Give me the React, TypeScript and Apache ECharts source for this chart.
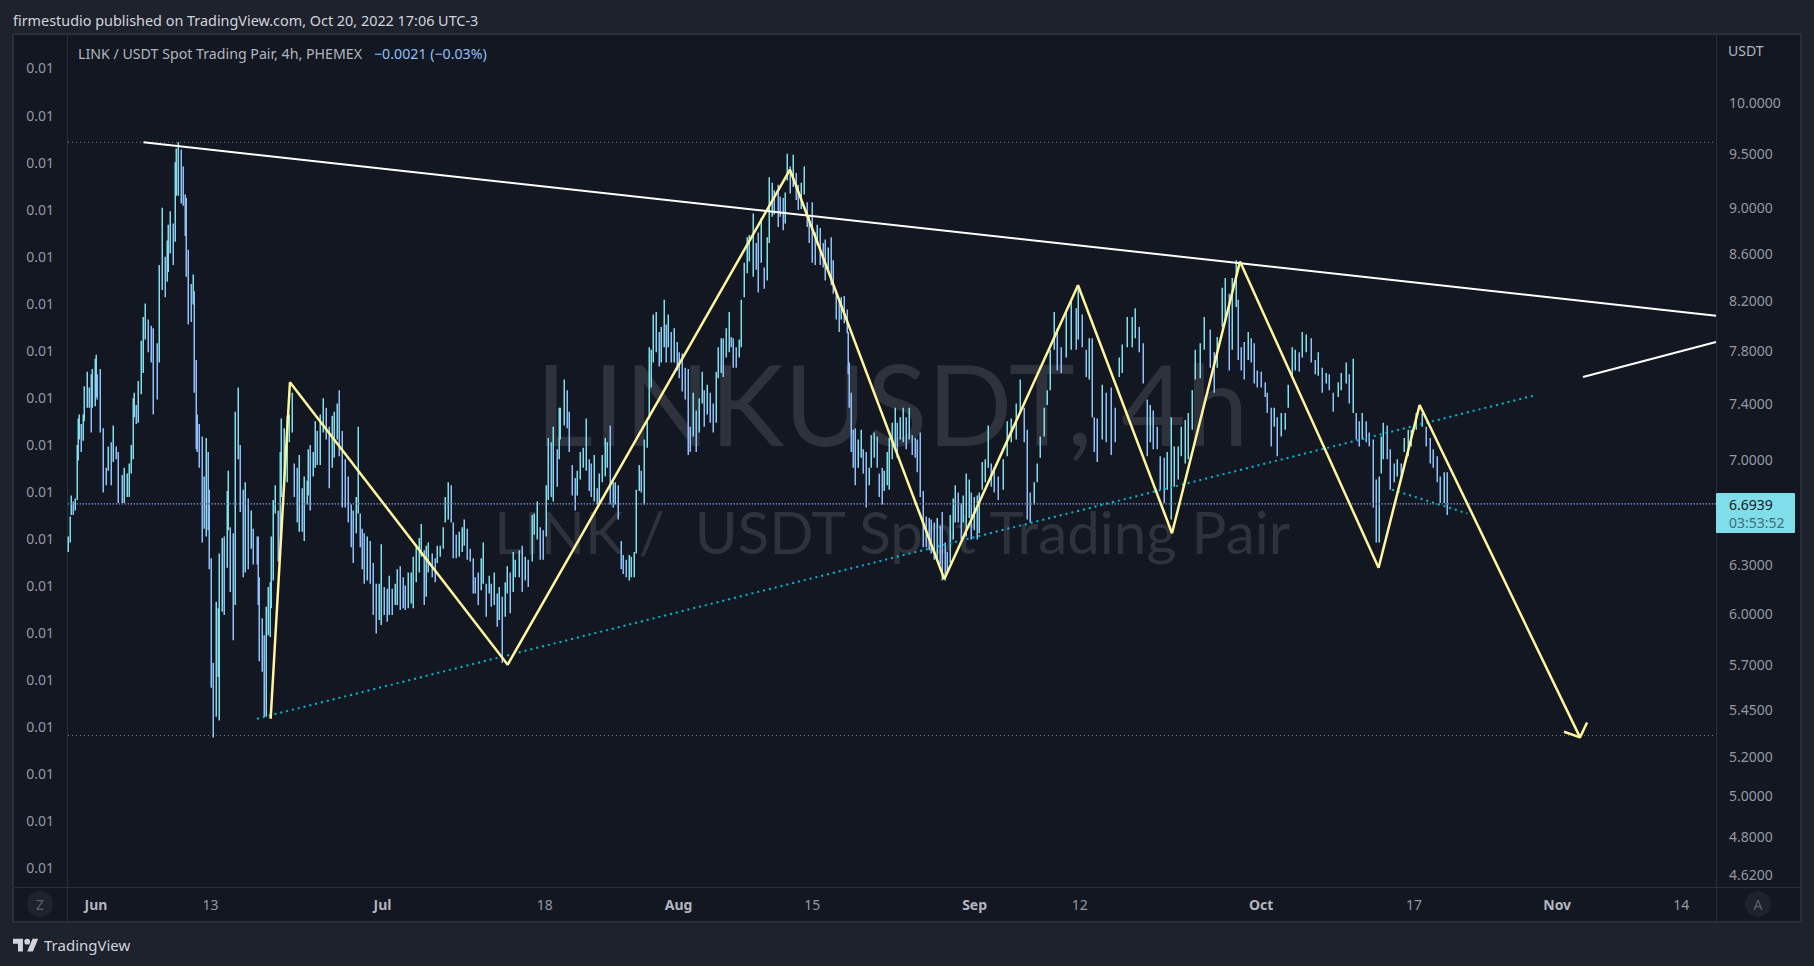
import React, { useEffect, useRef } from "react";
import * as echarts from "echarts";

// Time is counted in days from 1 June 2022. Prices are USDT.
const barDay = [
  -2.9,-2.7,-2.6,-2.4,-2.2,-2.0,-1.9,-1.8,-1.6,-1.4,
  -1.3,-0.9,-0.7,-0.5,-0.4,-0.1,0,0.1,0.4,0.7,
  1.0,1.3,1.6,1.8,2.1,2.3,2.7,2.9,3.2,3.5,
  3.7,3.9,4.0,4.2,4.4,4.7,4.9,5.1,5.4,5.8,
  6.0,6.4,6.6,6.9,7.2,7.4,7.5,7.7,8.1,8.3,
  8.4,8.6,8.9,9.1,9.3,9.4,9.6,9.9,10.2,10.3,
  10.5,10.6,10.8,11.1,11.3,11.5,11.7,11.8,12.0,12.3,
  12.6,12.8,12.9,13.2,13.4,13.7,13.8,14.0,14.3,14.6,
  14.9,15.1,15.4,15.6,15.9,16.2,16.4,16.9,17.0,17.1,
  17.4,17.6,17.8,18.0,18.2,18.3,18.5,18.7,19.1,19.3,
  19.4,19.7,20.0,20.2,20.5,20.7,21.0,21.3,21.6,21.8,
  22.1,22.2,22.4,22.7,22.9,23.1,23.5,23.8,24.1,24.4,
  24.7,24.9,25.2,25.4,25.8,26.1,26.4,26.7,26.9,27.2,
  27.4,27.6,27.9,28.1,28.4,28.7,29.0,29.3,29.6,29.8,
  30.2,30.5,30.7,31.0,31.3,31.5,31.8,32.1,32.4,32.7,
  33.0,33.2,33.5,33.8,34.0,34.3,34.6,34.8,35.2,35.5,
  35.7,36.0,36.3,36.5,36.9,37.2,37.4,37.7,38.0,38.3,
  38.5,38.8,39.2,39.5,39.7,40.0,40.3,40.5,40.8,41.2,
  41.4,41.7,42.0,42.2,42.5,42.8,43.0,43.4,43.7,43.9,
  44.3,44.6,44.9,45.2,45.7,45.9,46.2,46.5,46.8,47.1,
  47.3,47.6,47.9,48.3,48.5,48.6,49.0,49.3,49.5,49.8,
  50.2,50.4,50.7,51.0,51.3,51.6,51.8,52.1,52.5,52.7,
  53.0,53.3,53.5,53.8,54.1,54.3,54.7,55.0,55.2,55.5,
  55.8,56.0,56.3,56.5,56.9,57.1,57.4,57.7,57.9,58.1,
  58.3,58.6,59.0,59.2,59.5,59.7,59.9,60.2,60.5,60.8,
  61.0,61.4,61.7,62.0,62.2,62.5,62.8,63.1,63.5,63.7,
  64.0,64.3,64.6,64.9,65.1,65.4,65.7,66.0,66.3,66.5,
  66.7,67.0,67.3,67.5,67.9,68.2,68.4,68.8,69.1,69.3,
  69.6,69.9,70.3,70.5,70.8,71.0,71.4,71.6,71.9,72.1,
  72.4,72.7,73.0,73.3,73.5,73.8,74.1,74.5,74.7,75.0,
  75.3,75.5,75.8,76.1,76.3,76.6,77.0,77.2,77.5,77.8,
  78.0,78.3,78.6,78.7,78.8,79.1,79.3,79.5,79.8,80.1,
  80.3,80.6,80.9,81.2,81.5,81.8,82.0,82.3,82.5,82.8,
  83.0,83.4,83.7,83.9,84.2,84.5,84.8,85.1,85.4,85.8,
  86.0,86.3,86.6,86.9,87.2,87.4,87.7,88.1,88.4,88.6,
  88.9,89.1,89.4,89.7,89.9,90.3,90.6,90.8,91.1,91.4,
  91.6,91.9,92.3,92.5,92.8,93.1,93.4,93.7,94.0,94.5,
  95.0,95.4,95.8,96.3,96.8,97.2,97.5,97.8,98.2,98.5,
  98.8,99.3,99.6,99.9,100.3,100.6,101.0,101.6,102.1,102.6,
  102.8,103.2,103.7,104.0,104.3,104.5,104.8,105.3,105.8,106.3,
  106.7,107.1,107.4,108.0,108.5,108.8,109.2,109.6,110.0,110.4,
  110.7,111.1,111.4,111.8,112.1,112.6,112.9,113.3,113.6,114.0,
  114.3,114.8,115.1,115.6,116.0,116.6,117.1,117.4,117.9,118.2,
  118.6,119.0,119.4,119.6,119.9,120.2,120.6,120.9,121.3,121.6,
  122.0,122.4,122.6,123.0,123.4,123.7,124.1,124.5,124.8,125.2,
  125.5,126.0,126.3,126.7,127.2,127.6,128.0,128.4,128.8,129.1,
  129.5,130.1,130.4,130.9,131.2,131.6,131.9,132.2,132.6,133.0,
  133.3,133.7,134.0,134.3,134.6,134.8,135.2,135.5,135.9,136.2,
  136.6,137.0,137.4,137.7,138.2,138.8,139.3,139.7,140.0,140.4,
  140.7,141.2,141.5,
];

const barHigh = [
  6.48,6.61,6.75,6.71,6.73,7.10,7.29,7.32,7.25,7.32,
  7.53,7.64,7.52,7.62,7.66,7.74,7.77,7.62,7.66,7.22,
  6.94,7.09,7.12,7.24,7.09,7.05,6.89,6.94,6.90,6.97,
  7.10,7.44,7.48,7.39,7.57,7.88,8.07,8.18,8.05,8.00,
  7.98,7.86,8.50,9.00,8.57,8.71,8.85,8.97,8.86,9.42,
  9.55,9.61,9.54,9.38,9.12,9.09,8.63,8.34,8.42,8.28,
  7.73,7.32,7.25,7.16,6.88,7.15,7.05,6.79,6.34,5.71,
  6.07,6.03,6.37,6.47,6.48,6.78,6.92,6.54,6.50,7.34,
  7.52,7.10,6.79,6.84,6.73,6.65,6.53,6.48,6.48,6.22,
  5.97,5.87,6.04,6.16,6.19,6.48,6.72,6.82,6.65,7.05,
  7.29,7.22,7.31,7.32,7.48,6.97,6.94,7.03,6.80,6.88,
  6.85,7.07,7.10,7.05,7.27,7.20,7.32,7.44,7.37,7.23,
  7.31,7.34,7.40,7.50,7.20,7.00,6.88,6.69,6.65,6.74,
  7.23,6.63,6.53,6.50,6.48,6.45,6.31,6.18,6.18,6.43,
  6.16,6.15,6.23,6.15,6.18,6.27,6.29,6.22,6.17,6.25,
  6.25,6.35,6.41,6.47,6.56,6.39,6.42,6.44,6.37,6.34,
  6.42,6.42,6.54,6.74,6.84,6.82,6.57,6.49,6.51,6.54,
  6.59,6.53,6.40,6.34,6.22,6.25,6.34,6.44,6.18,6.23,
  6.18,6.25,6.12,6.16,6.10,6.19,6.29,6.25,6.38,6.33,
  6.39,6.42,6.35,6.33,6.62,6.63,6.71,6.54,6.52,6.82,
  7.15,7.12,7.23,7.07,7.37,7.37,7.58,7.50,7.34,6.96,
  6.87,6.92,7.05,7.08,7.29,7.00,6.97,7.03,6.80,6.90,
  7.03,7.15,7.12,7.24,6.84,6.84,6.82,6.45,6.36,6.33,
  6.36,6.35,6.38,6.79,6.96,6.92,7.14,7.29,7.83,7.81,
  8.09,8.11,7.95,7.99,8.21,8.01,8.09,7.95,7.98,7.87,
  7.79,7.78,7.67,7.66,7.23,7.48,7.35,7.44,7.64,7.50,
  7.54,7.48,7.40,7.64,7.83,7.90,7.90,7.98,8.11,7.91,
  7.90,7.83,7.89,8.21,8.52,8.74,8.76,8.95,8.69,8.78,
  8.91,8.48,8.74,9.28,9.23,9.16,9.21,9.10,9.09,9.14,
  9.50,9.38,9.49,9.32,9.21,9.23,9.38,9.05,8.92,9.05,
  8.78,8.85,8.82,8.69,8.72,8.65,8.74,8.54,8.26,8.22,
  8.23,8.24,8.13,7.95,7.71,7.48,7.21,7.22,7.14,7.21,
  7.07,7.05,6.94,7.17,7.19,7.16,6.90,6.94,6.92,7.05,
  7.15,7.26,7.37,7.26,7.30,7.37,7.30,7.37,7.17,7.15,
  7.14,7.19,6.78,6.61,6.60,6.59,6.57,6.60,6.55,6.64,
  6.44,6.38,6.62,6.73,6.82,6.77,6.70,6.75,6.90,6.86,
  6.77,6.74,6.75,6.77,6.98,7.00,7.24,6.97,6.94,6.88,
  7.00,7.27,7.29,7.40,7.58,7.37,7.21,6.77,6.84,6.97,
  7.16,7.37,7.50,7.81,8.11,7.98,7.83,8.11,8.21,8.14,
  8.31,8.09,7.81,7.90,7.90,7.30,7.29,7.54,7.48,7.52,
  7.37,7.75,7.85,8.07,8.07,8.14,7.99,7.86,7.43,7.39,
  7.35,7.23,7.02,7.01,7.05,7.30,7.09,7.09,7.23,7.28,
  7.33,7.50,7.81,7.86,8.07,7.97,7.79,7.91,8.31,8.39,
  8.26,8.39,8.54,8.21,7.83,7.87,7.95,7.90,7.86,7.65,
  7.64,7.56,7.48,7.37,7.37,7.30,7.33,7.33,7.54,7.83,
  7.81,7.79,7.95,7.93,7.90,7.73,7.79,7.67,7.63,7.62,
  7.48,7.56,7.63,7.71,7.62,7.74,7.33,7.27,7.33,7.27,
  7.19,7.14,6.86,6.88,7.16,7.26,7.24,7.07,6.97,7.00,
  6.97,7.15,7.21,7.21,7.33,7.33,7.23,7.15,7.07,7.02,
  6.88,6.91,6.91,
];

const barLow = [
  6.38,6.44,6.62,6.62,6.65,6.72,6.99,7.14,7.05,7.13,
  7.27,7.37,7.37,7.19,7.37,7.38,7.45,7.43,7.19,6.77,
  6.82,6.92,6.82,6.98,7.00,6.70,6.70,6.70,6.74,6.74,
  6.90,7.00,7.30,7.25,7.26,7.47,7.63,7.89,7.79,7.71,
  7.32,7.43,7.71,8.29,8.23,8.36,8.44,8.60,8.50,8.70,
  9.11,9.11,9.04,9.02,8.75,8.40,8.01,8.03,8.17,7.48,
  7.07,7.05,6.94,6.44,6.53,6.48,6.52,6.27,5.57,5.30,
  5.41,5.63,5.39,6.01,5.99,6.28,6.52,6.13,5.84,6.05,
  7.00,6.64,6.22,6.25,6.27,6.40,6.30,6.30,6.05,5.72,
  5.66,5.41,5.41,5.87,5.86,6.03,6.20,6.63,6.32,6.33,
  6.74,6.82,6.84,7.12,7.19,6.74,6.57,6.51,6.51,6.45,
  6.69,6.75,6.65,6.88,6.94,6.96,6.96,7.19,7.14,6.80,
  6.94,7.01,7.14,7.02,6.67,6.67,6.57,6.41,6.31,6.50,
  6.63,6.41,6.27,6.18,6.20,6.18,5.99,5.88,5.96,5.93,
  5.99,5.95,5.99,5.99,6.05,6.05,6.02,6.03,6.02,6.03,
  6.06,6.03,6.19,6.25,6.35,6.05,6.10,6.25,6.22,6.19,
  6.31,6.35,6.40,6.57,6.59,6.57,6.34,6.34,6.35,6.38,
  6.42,6.33,6.32,6.12,6.12,6.05,6.14,6.18,5.98,6.12,
  6.04,6.05,5.92,5.96,5.71,5.98,6.12,6.00,6.13,6.22,
  6.22,6.13,6.20,6.16,6.32,6.49,6.46,6.33,6.33,6.48,
  6.72,6.74,6.71,6.81,7.00,7.14,7.24,7.22,7.05,6.75,
  6.65,6.75,6.86,6.94,6.92,6.78,6.74,6.71,6.69,6.70,
  6.84,6.88,6.94,6.69,6.67,6.69,6.59,6.27,6.24,6.22,
  6.20,6.22,6.22,6.37,6.78,6.77,6.69,7.08,7.29,7.52,
  7.71,7.79,7.68,7.71,7.83,7.71,7.83,7.71,7.71,7.65,
  7.59,7.49,7.43,7.03,7.05,7.16,7.05,7.19,7.40,7.23,
  7.32,7.26,7.19,7.26,7.59,7.63,7.60,7.75,7.79,7.83,
  7.67,7.67,7.75,7.83,8.23,8.43,8.53,8.40,8.46,8.27,
  8.52,8.30,8.37,8.69,8.92,8.94,8.83,8.92,8.80,8.86,
  9.25,9.13,9.19,9.07,8.98,8.99,9.12,8.83,8.69,8.52,
  8.50,8.67,8.50,8.48,8.37,8.46,8.33,8.26,8.05,7.95,
  8.05,8.02,7.94,7.62,7.37,7.05,6.94,6.82,6.94,7.01,
  6.90,6.67,6.82,6.94,7.01,6.94,6.74,6.69,6.78,6.82,
  6.79,7.00,7.09,7.01,7.14,7.12,7.07,7.14,7.03,7.01,
  6.91,6.74,6.41,6.41,6.39,6.37,6.33,6.34,6.30,6.20,
  6.20,6.25,6.31,6.46,6.57,6.57,6.46,6.57,6.48,6.60,
  6.46,6.52,6.46,6.50,6.79,6.84,6.94,6.81,6.77,6.72,
  6.79,7.02,7.12,7.14,7.33,7.12,6.59,6.57,6.69,6.84,
  7.01,7.16,7.39,7.50,7.81,7.65,7.63,7.75,7.81,7.81,
  7.89,7.83,7.60,7.58,7.30,7.05,6.98,7.14,7.12,7.03,
  7.12,7.60,7.63,7.83,7.83,7.90,7.79,7.55,7.02,7.12,
  7.07,7.07,6.79,6.70,6.79,6.59,6.81,6.86,7.02,6.97,
  7.00,7.21,7.58,7.59,7.81,7.67,7.48,7.67,7.99,8.02,
  7.65,7.81,8.15,7.73,7.65,7.58,7.73,7.71,7.55,7.52,
  7.52,7.45,7.33,7.09,7.23,7.02,7.16,7.21,7.37,7.60,
  7.65,7.64,7.75,7.79,7.71,7.62,7.61,7.48,7.55,7.50,
  7.34,7.45,7.50,7.55,7.40,7.33,7.14,7.09,7.14,7.12,
  7.09,6.67,6.44,6.44,6.90,7.00,7.00,6.79,6.84,6.88,
  6.86,7.05,7.02,7.09,7.21,7.23,7.09,6.97,6.94,6.84,
  6.70,6.70,6.62,
];

const resistanceDays = [4.97, 169.63];
const resistancePrices = [9.61, 8.08];
const shortLineDays = [155.7, 169.63];
const shortLinePrices = [7.6, 7.87];
const zigzagDays = [18.29, 20.31, 43.11, 72.67, 88.83, 102.83, 112.67, 119.79, 134.3, 138.6, 155.39];
const zigzagPrices = [5.4, 7.56, 5.7, 9.35, 6.21, 8.33, 6.5, 8.53, 6.28, 7.39, 5.3];
const arrowDays = [153.72, 155.39, 156.13];
const arrowPrices = [5.33, 5.3, 5.38];
const supportDays = [16.86, 150.58];
const supportPrices = [5.4, 7.46];
const minorDays = [135.7, 143.6];
const minorPrices = [6.79, 6.63];
const rangeHigh = 9.61;
const rangeLow = 5.31;
const lastPrice = 6.6939;

const priceTicks = [10, 9.5, 9, 8.6, 8.2, 7.8, 7.4, 7, 6.3, 6, 5.7, 5.45, 5.2, 5, 4.8, 4.62];
const leftTicks = [0, 1, 2, 3, 4, 5, 6, 7, 8, 9, 10, 11, 12, 13, 14, 15, 16, 17];
const timeTickDays = [0, 12, 30, 47, 61, 75, 92, 103, 122, 138, 153, 166];
const timeTickLabels = ["Jun", "13", "Jul", "18", "Aug", "15", "Sep", "12", "Oct", "17", "Nov", "14"];
const monthLabels = ["Jun", "Jul", "Aug", "Sep", "Oct", "Nov"];

const DAY_MIN = -2.93;
const DAY_MAX = 169.63;
const PRICE_TOP = 10.709;
const PRICE_BOTTOM = 4.5636;
const UI_FONT = "'Noto Sans', 'Open Sans', sans-serif";
const PANEL = "#131722";
const PAGE = "#1e222d";
const EDGE = "#2a2e39";
const WATERMARK = "#2e323d";
const AXIS_TEXT = "#9598a1";

const zip = (days: number[], prices: number[]) => days.map((d, i) => [d, Math.log(prices[i])]);
const lineSeries = (data: number[][], color: string, width: number, dash: any, z: number, offset = 0) => ({
  type: "line",
  data,
  showSymbol: false,
  symbol: "none",
  silent: true,
  z,
  lineStyle: { color, width, type: dash, dashOffset: offset, cap: "butt" },
});

echarts.graphic.registerShape(
  "tvlogo",
  echarts.graphic.extendPath("M14 22H7V11H0V4h14v18zM28 22h-8l7.5-18h8L28 22zM24 8a4 4 0 1 1-8 0a4 4 0 1 1 8 0z", {}) as any
);

const txt = (x: number, y: number, text: string, fontSize: number, fill: string, extra: any = {}) => ({
  type: "text",
  x,
  y,
  z: extra.z ?? 5,
  silent: true,
  style: {
    text,
    fontSize,
    fill,
    fontFamily: UI_FONT,
    verticalAlign: "middle",
    align: "left",
    ...extra.style,
  },
});

function buildOption() {
  const bars = barDay.map((d, i) => {
    const mid = (barHigh[i] + barLow[i]) / 2;
    const prev = i > 0 ? (barHigh[i - 1] + barLow[i - 1]) / 2 : mid;
    return [d, Math.log(barHigh[i]), Math.log(barLow[i]), mid >= prev ? 1 : 0];
  });
  const span = [DAY_MIN, DAY_MAX];
  return {
    animation: false,
    backgroundColor: PAGE,
    textStyle: { fontFamily: UI_FONT },
    grid: { left: 68, right: 98, top: 34, bottom: 79, containLabel: false },
    xAxis: {
      type: "value",
      min: DAY_MIN,
      max: DAY_MAX,
      splitLine: { show: false },
      axisLine: { show: false },
      axisTick: { show: false },
      axisLabel: {
        customValues: timeTickDays,
        margin: 10,
        hideOverlap: false,
        showMinLabel: true,
        showMaxLabel: true,
        formatter: (v: number) => {
          const label = timeTickLabels[timeTickDays.indexOf(v)] ?? "";
          return monthLabels.includes(label) ? `{m|${label}}` : `{d|${label}}`;
        },
        rich: {
          m: { fontFamily: UI_FONT, fontSize: 14, fontWeight: "bold", color: "#b2b5be" },
          d: { fontFamily: UI_FONT, fontSize: 14, color: AXIS_TEXT },
        },
      },
    },
    yAxis: [
      {
        type: "value",
        position: "right",
        min: Math.log(PRICE_BOTTOM),
        max: Math.log(PRICE_TOP),
        splitLine: { show: false },
        axisLine: { show: false },
        axisTick: { show: false },
        axisLabel: {
          customValues: priceTicks.map((p) => Math.log(p)),
          margin: 13,
          color: AXIS_TEXT,
          fontFamily: UI_FONT,
          fontSize: 14,
          padding: [0, 0, 2, 0],
          formatter: (v: number) => Math.exp(v).toFixed(4),
        },
      },
      {
        type: "value",
        position: "left",
        min: -0.4255,
        max: 17.7234,
        splitLine: { show: false },
        axisLine: { show: false },
        axisTick: { show: false },
        axisLabel: {
          customValues: leftTicks,
          margin: 14,
          color: AXIS_TEXT,
          fontFamily: UI_FONT,
          fontSize: 14,
          padding: [0, 0, 3, 0],
          formatter: () => "0.01",
        },
      },
    ],
    series: [
      {
        type: "custom",
        silent: true,
        z: 3,
        encode: { x: 0, y: [1, 2] },
        data: bars,
        renderItem: (_: any, api: any) => {
          const a = api.coord([api.value(0), api.value(1)]);
          const b = api.coord([api.value(0), api.value(2)]);
          const px = Math.round(a[0]) + 0.25;
          return {
            type: "line",
            shape: { x1: px, y1: a[1], x2: px, y2: b[1] },
            style: { stroke: api.value(3) ? "#80deea" : "#90bff9", lineWidth: 1.5 },
          };
        },
      },
      lineSeries(span.map((d) => [d, Math.log(rangeHigh)]), "#787b86", 1, [1, 3], 2),
      lineSeries(span.map((d) => [d, Math.log(rangeLow)]), "#787b86", 1, [1, 3], 2),
      lineSeries(span.map((d) => [d, Math.log(lastPrice)]), "#7a4a50", 1, [1, 2], 4, 1),
      lineSeries(span.map((d) => [d, Math.log(lastPrice)]), "#5aa9ff", 1.2, [1, 2], 4),
      lineSeries(zip(supportDays, supportPrices), "#00bcd4", 2, [2, 4], 5),
      lineSeries(zip(minorDays, minorPrices), "#00bcd4", 2, [2, 4], 5),
      lineSeries(zip(resistanceDays, resistancePrices), "#ffffff", 2, "solid", 6),
      lineSeries(zip(shortLineDays, shortLinePrices), "#ffffff", 2, "solid", 6),
      lineSeries(zip(zigzagDays, zigzagPrices), "#fff59d", 2.5, "solid", 7),
      lineSeries(zip(arrowDays, arrowPrices), "#fff59d", 2.5, "solid", 7),
    ],
    graphic: {
      elements: [
        { type: "rect", z: -2, silent: true, shape: { x: 13, y: 34, width: 1788, height: 888 }, style: { fill: PANEL, stroke: EDGE, lineWidth: 2 } },
        { type: "line", z: -1, silent: true, shape: { x1: 67.5, y1: 34, x2: 67.5, y2: 921 }, style: { stroke: EDGE, lineWidth: 1 } },
        { type: "line", z: -1, silent: true, shape: { x1: 1716.5, y1: 34, x2: 1716.5, y2: 921 }, style: { stroke: EDGE, lineWidth: 1 } },
        { type: "line", z: -1, silent: true, shape: { x1: 13, y1: 887.5, x2: 1801, y2: 887.5 }, style: { stroke: EDGE, lineWidth: 1 } },
        txt(892, 402, "LINKUSDT, 4h", 112, WATERMARK, { z: 1, style: { align: "center", fontFamily: "Lato, sans-serif" } }),
        txt(892, 531, "LINK /  USDT Spot Trading Pair", 58.3, WATERMARK, { z: 1, style: { align: "center", fontFamily: "Lato, sans-serif" } }),
        txt(13, 20, "firmestudio published on TradingView.com, Oct 20, 2022 17:06 UTC-3", 14.4, "#d1d4dc"),
        txt(78, 53, "LINK / USDT Spot Trading Pair, 4h, PHEMEX", 14.2, "#b2b5be"),
        txt(374, 53, "\u22120.0021 (\u22120.03%)", 14.2, "#90bff9"),
        txt(1728, 50, "USDT", 14, "#b2b5be"),
        { type: "rect", z: 9, silent: true, shape: { x: 1716, y: 493, width: 79, height: 40, r: 1 }, style: { fill: "#80deea" } },
        txt(1729, 504, "6.6939", 14, "#131722", { z: 10 }),
        txt(1729, 522, "03:53:52", 14, "#3f6f7a", { z: 10 }),
        { type: "circle", z: 4, silent: true, shape: { cx: 40, cy: 904, r: 13 }, style: { fill: PAGE } },
        txt(40, 904, "Z", 14, "#5d606b", { style: { align: "center" } }),
        { type: "circle", z: 4, silent: true, shape: { cx: 1758, cy: 904, r: 13 }, style: { fill: PAGE } },
        txt(1758, 904, "A", 14, "#5d606b", { style: { align: "center" } }),
        { type: "tvlogo", z: 5, silent: true, x: 13, y: 936, scaleX: 0.71, scaleY: 0.71, style: { fill: "#d1d4dc" } },
        txt(44, 945, "TradingView", 15, "#d1d4dc"),
      ],
    },
  };
}

export default function App() {
  const ref = useRef<HTMLDivElement | null>(null);
  useEffect(() => {
    document.body.style.margin = "0";
    document.body.style.background = PAGE;
    const chart = echarts.init(ref.current as HTMLDivElement, undefined, { renderer: "svg" });
    chart.setOption(buildOption() as any);
    return () => chart.dispose();
  }, []);
  return <div ref={ref} style={{ width: 1814, height: 966 }} />;
}
